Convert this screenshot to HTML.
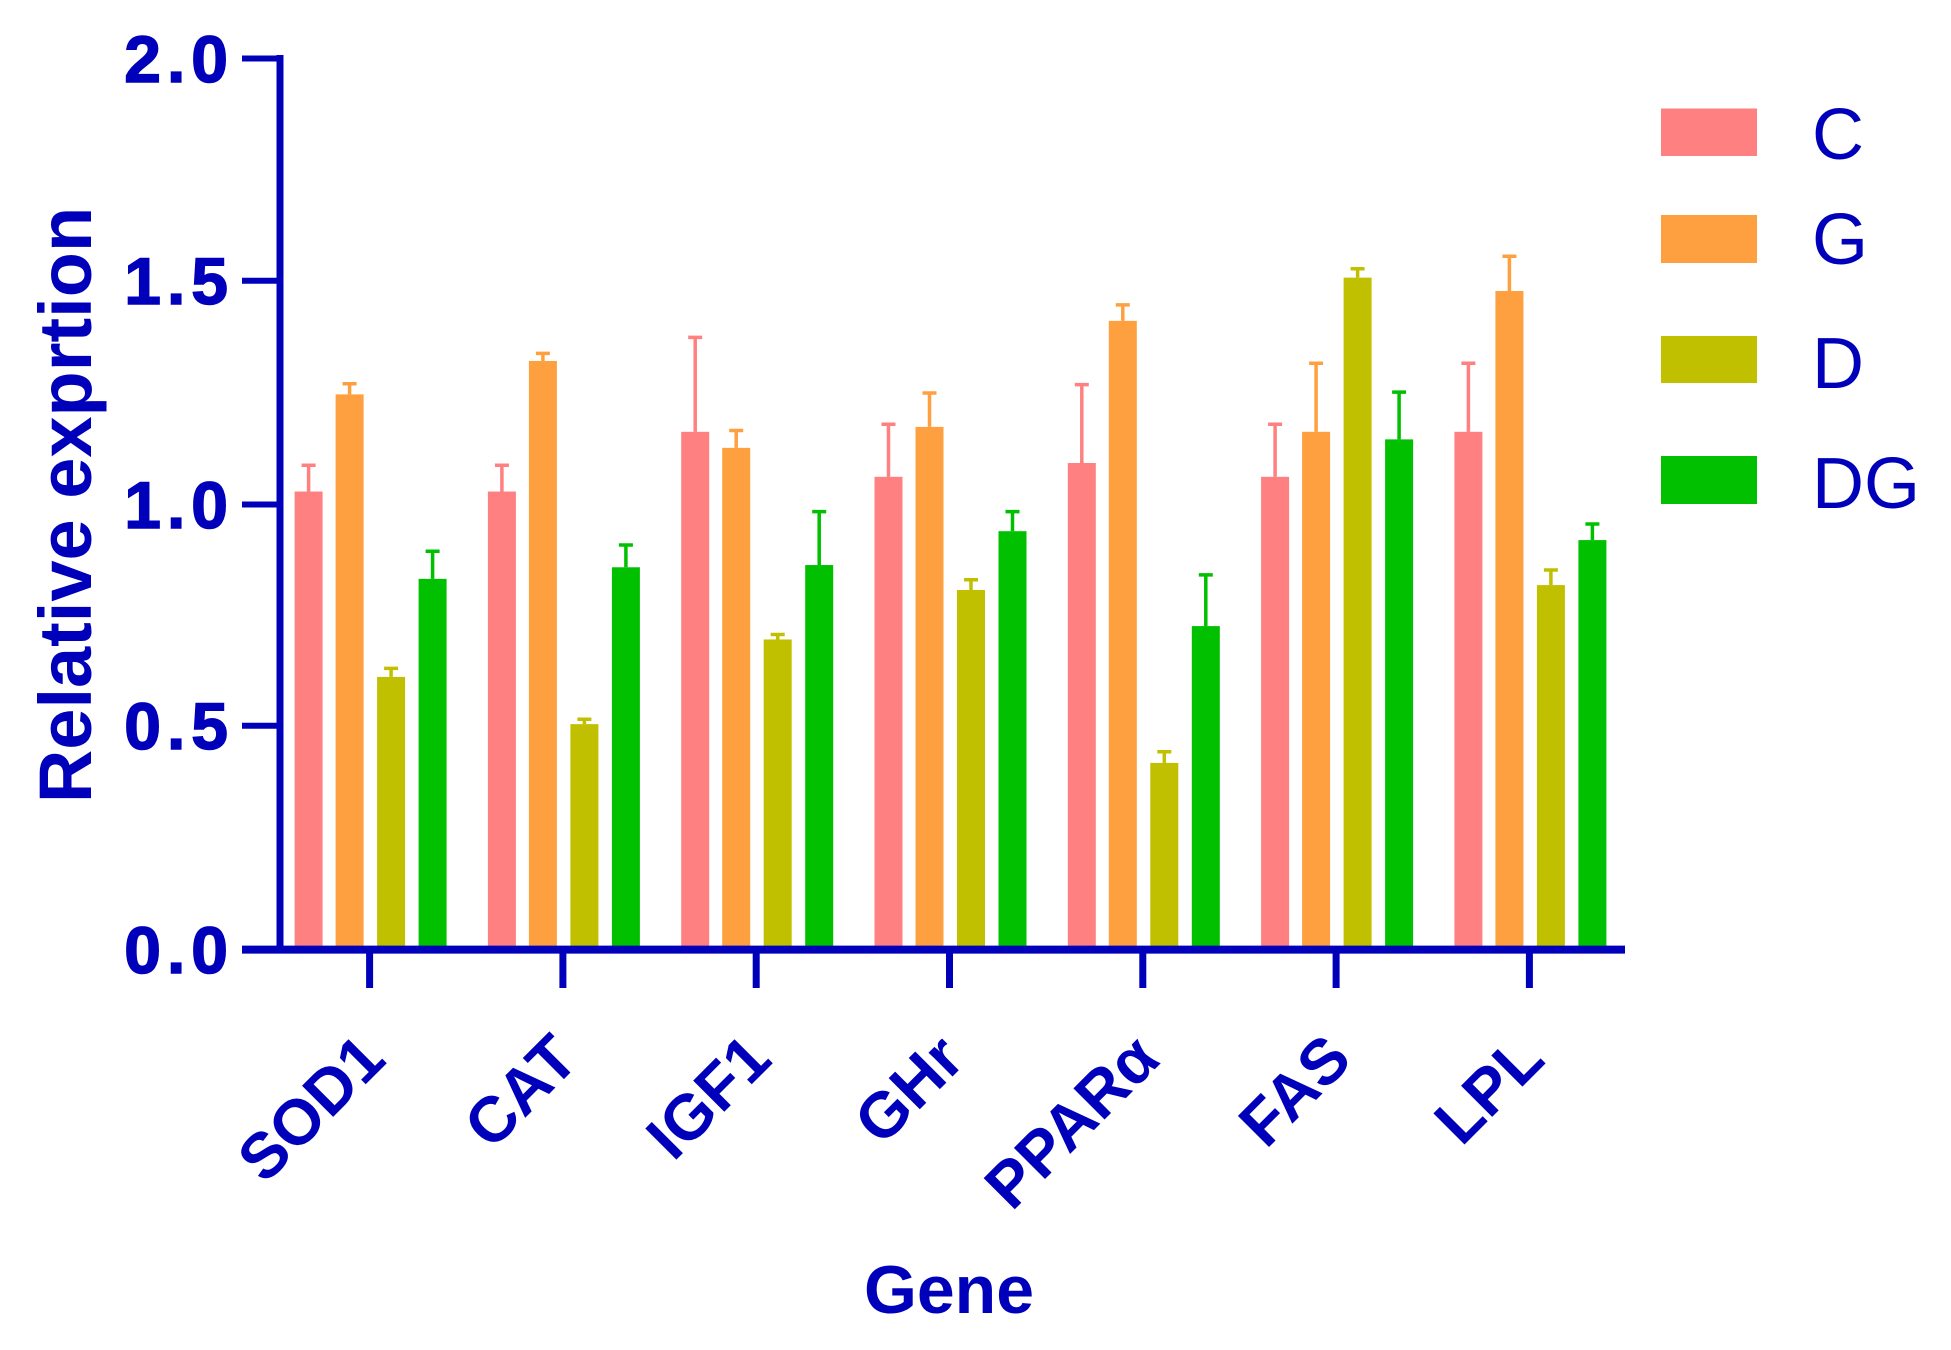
<!DOCTYPE html>
<html><head><meta charset="utf-8"><style>
html,body{margin:0;padding:0;background:#fff;}
svg{display:block;}
text{font-family:"Liberation Sans",Arial,sans-serif;fill:#0000BB;}
</style></head><body>
<svg width="1951" height="1350" viewBox="0 0 1951 1350" xmlns="http://www.w3.org/2000/svg">
<g id="bars"></g>
<g stroke="#0000BB" fill="none">
<line x1="280" y1="55" x2="280" y2="953" stroke-width="7"/>
<line x1="242" y1="949.6" x2="1625" y2="949.6" stroke-width="8"/>
<g stroke-width="6">
<line x1="242" y1="58.5" x2="280" y2="58.5"/>
<line x1="242" y1="280.7" x2="280" y2="280.7"/>
<line x1="242" y1="504.5" x2="280" y2="504.5"/>
<line x1="242" y1="725.8" x2="280" y2="725.8"/>
<line x1="242" y1="949.6" x2="280" y2="949.6"/>
</g>
<g stroke-width="7">
<line x1="369.6" y1="949" x2="369.6" y2="988"/>
<line x1="562.9" y1="949" x2="562.9" y2="988"/>
<line x1="756.2" y1="949" x2="756.2" y2="988"/>
<line x1="949.5" y1="949" x2="949.5" y2="988"/>
<line x1="1142.8" y1="949" x2="1142.8" y2="988"/>
<line x1="1336.1" y1="949" x2="1336.1" y2="988"/>
<line x1="1529.4" y1="949" x2="1529.4" y2="988"/>
</g>
</g>
<g font-weight="bold" font-size="66" text-anchor="end" letter-spacing="6" stroke="#0000BB" stroke-width="1.5">
<text x="234" y="82">2.0</text>
<text x="234" y="304">1.5</text>
<text x="234" y="528">1.0</text>
<text x="234" y="749">0.5</text>
<text x="234" y="973">0.0</text>
</g>
<text transform="translate(91,505) rotate(-90)" text-anchor="middle" font-weight="bold" font-size="74">Relative exprtion</text>
<text x="949" y="1313" text-anchor="middle" font-weight="bold" font-size="68">Gene</text>
<g font-weight="bold" font-size="64" text-anchor="end">
<text transform="translate(388,1062) rotate(-45)">SOD1</text>
<text transform="translate(581,1062) rotate(-45)">CAT</text>
<text transform="translate(774,1062) rotate(-45)">IGF1</text>
<text transform="translate(967,1062) rotate(-45)">GHr</text>
<text transform="translate(1162,1062) rotate(-45)">PPARα</text>
<text transform="translate(1354,1062) rotate(-45)">FAS</text>
<text transform="translate(1547,1062) rotate(-45)">LPL</text>
</g>
<rect x="1661" y="108.5" width="96" height="47.5" fill="#FF8080"/>
<rect x="1661" y="215" width="96" height="48" fill="#FFA040"/>
<rect x="1661" y="336" width="96" height="47" fill="#C0C000"/>
<rect x="1661" y="456" width="96" height="48" fill="#00C000"/>
<g font-size="72">
<text x="1812" y="159">C</text>
<text x="1812" y="264">G</text>
<text x="1812" y="388">D</text>
<text x="1812" y="508">DG</text>
</g>
<script>
var data=[[1.028,1.087,1.246,1.27,0.612,0.631,0.832,0.894],
[1.028,1.087,1.321,1.338,0.506,0.517,0.858,0.908],
[1.162,1.374,1.126,1.165,0.696,0.707,0.863,0.983],
[1.061,1.179,1.173,1.249,0.807,0.830,0.939,0.983],
[1.092,1.268,1.411,1.447,0.419,0.444,0.726,0.841],
[1.061,1.179,1.162,1.316,1.508,1.528,1.145,1.251],
[1.162,1.316,1.478,1.556,0.818,0.852,0.919,0.955]];
var cols=["#FF8080","#FFA040","#C0C000","#00C000"];
var offs=[-61,-20,21.5,63];
var g=document.getElementById("bars"),ns="http://www.w3.org/2000/svg";
function y(v){return 949.6-v*445.6;}
for(var i=0;i<7;i++){var cx=369.6+i*193.3;
for(var j=0;j<4;j++){var v=data[i][2*j],e=data[i][2*j+1],bx=cx+offs[j];
var r=document.createElementNS(ns,"rect");r.setAttribute("x",bx-14);r.setAttribute("width",28);r.setAttribute("y",y(v));r.setAttribute("height",949.6-y(v));r.setAttribute("fill",cols[j]);g.appendChild(r);
var l=document.createElementNS(ns,"path");l.setAttribute("d","M"+bx+" "+y(v)+"V"+y(e)+"M"+(bx-7)+" "+y(e)+"H"+(bx+7));l.setAttribute("stroke",cols[j]);l.setAttribute("stroke-width","3.5");l.setAttribute("fill","none");g.appendChild(l);}}
</script>
</svg>
</body></html>
